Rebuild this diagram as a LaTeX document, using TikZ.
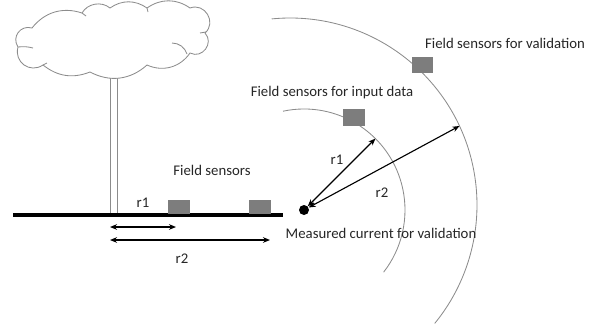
\documentclass[tikz,border=0pt]{standalone}
\usepackage{fontspec}
\setmainfont{Carlito}
\usetikzlibrary{arrows.meta}
\definecolor{sensorgray}{RGB}{125,125,125}
\definecolor{linegray}{RGB}{140,140,140}

\tikzset{
  sensor/.style={fill=sensorgray, inner sep=0pt, minimum width=0.55cm, minimum height=0.42cm},
  gsensor/.style={sensor, minimum height=0.35cm},
  lbl/.style={font=\fontsize{10.5}{12}\selectfont, text=black!85, inner sep=1pt},
}

\begin{document}
\begin{tikzpicture}[x=0.025cm, y=0.025cm,
  ring/.style={draw=linegray, line width=0.6pt},
  dim/.style={{Stealth[length=5pt,width=4pt]}-{Stealth[length=5pt,width=4pt]}, line width=0.8pt}]
  \useasboundingbox (0,0) rectangle (598,325);
  % tree: pole and cloud
  \draw[linegray, line width=0.6pt, fill=white] (110,111) rectangle (117,250);
  \draw[linegray, line width=0.6pt, fill=white]
    (32,297) to[bend left=35] (82,312) to[bend left=50] (110,317)
    to[bend left=35] (147,317) to[bend left=35] (190,317)
    to[bend left=80, looseness=1.4] (205,292) to[bend left=80, looseness=1.4] (190,272)
    to[bend left=40] (147,260) to[bend left=35] (90,253)
    to[bend left=30] (43,260) to[bend left=70, looseness=1.3] (18,278)
    to[bend left=70, looseness=1.3] (32,297) -- cycle;
  \draw[linegray, line width=0.6pt]
    (172,282) to[bend left=35] (187,271)
    (18,278) to[bend left=10] (33,277)
    (200,292) -- (206,293)
    (82,312) -- (86,309)
    (147,317) -- (148,313)
    (43,260) -- (47,262);
  % ground and the sensors on it
  \draw[line width=2.4pt] (13,110) -- (283,110);
  \node[gsensor] (g1) at (179,118) {};
  \node[gsensor] (g2) at (260,118) {};
  \node[lbl] (fs) at (212,155) {Field sensors};
  \coordinate (p1) at (110,98);  \coordinate (e1) at (176,98);
  \coordinate (p2) at (110,85);  \coordinate (e2) at (270,85);
  \draw[dim] (p1) -- (e1);
  \draw[dim] (p2) -- (e2);
  \node[lbl] (gr1) at (143,122) {r1};
  \node[lbl] (gr2) at (182,66) {r2};
  % measured current and the two rings of sensors
  \node[circle, fill=black, inner sep=0pt, minimum size=0.25cm] (dot) at (304,115) {};
  \coordinate (c2) at (290,120);
  \draw[ring] ([shift={(102:101)}]dot.center) arc[start angle=102, end angle=-38, radius=101];
  \draw[ring] ([shift={(95.6:187)}]c2) arc[start angle=95.6, end angle=-39.3, radius=187];
  \node[sensor] (s1) at (354,207.5) {};
  \node[sensor, minimum width=0.525cm, minimum height=0.4cm] (s2) at (422.5,260) {};
  \coordinate (a1) at ([shift={(45:101)}]dot.center);
  \coordinate (a2) at ([shift={(25:187)}]c2);
  \draw[dim] (dot) -- (a1);
  \draw[dim] (dot) -- (a2);
  \node[lbl] (r1) at (337,165) {r1};
  \node[lbl] (r2) at (382,132) {r2};
  \node[lbl] (fsi) at (332,232) {Field sensors for input data};
  \node[lbl] (fsv) at (505,282) {Field sensors for validation};
  \node[lbl] (mc) at (381,92) {Measured current for validation};
\end{tikzpicture}
\end{document}
